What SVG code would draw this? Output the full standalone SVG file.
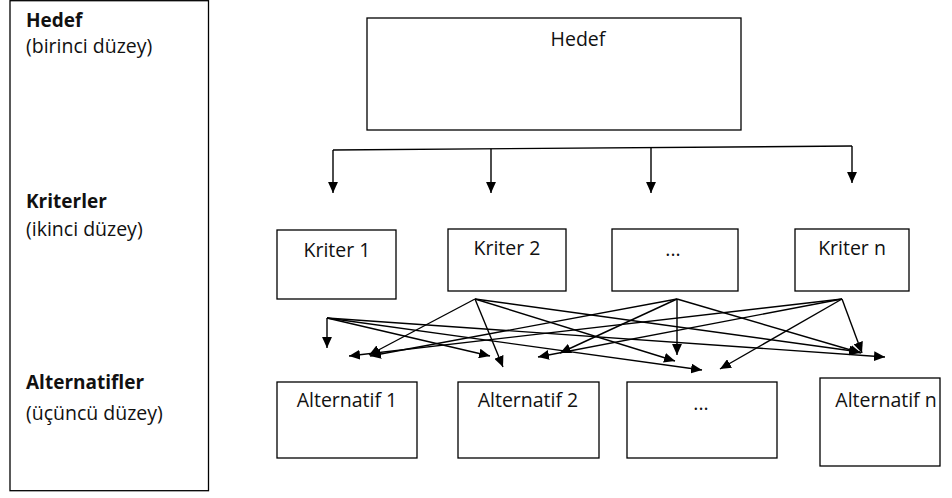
<svg xmlns="http://www.w3.org/2000/svg" width="952" height="498" viewBox="0 0 952 498">
  <defs>
    <marker id="head" viewBox="0 0 10 9" refX="10" refY="4.5" markerWidth="11" markerHeight="10" markerUnits="userSpaceOnUse" orient="auto">
      <path d="M0,0 L10,4.5 L0,9 z" fill="#000"/>
    </marker>
    <style>
      .box { fill: #fff; stroke: #000; stroke-width: 1.3; }
      .lbl { font-family: "Open Sans", "Liberation Sans", sans-serif; font-size: 19.5px; fill: #111; }
      .mid { text-anchor: middle; }
      .bold { font-weight: bold; font-size: 19px; }
      .wire { fill: none; stroke: #000; stroke-width: 1.4; }
      .arr { marker-end: url(#head); }
    </style>
  </defs>

  <rect width="952" height="498" fill="#fff"/>

  <!-- level legend on the left -->
  <g id="levels">
    <rect class="box" x="10" y="0.7" width="198.5" height="490"/>
    <text class="lbl bold" x="26" y="27">Hedef</text>
    <text class="lbl" x="26" y="53">(birinci düzey)</text>
    <text class="lbl bold" x="26" y="208">Kriterler</text>
    <text class="lbl" x="26" y="236">(ikinci düzey)</text>
    <text class="lbl bold" x="26" y="389">Alternatifler</text>
    <text class="lbl" x="26" y="420">(üçüncü düzey)</text>
  </g>

  <!-- goal -->
  <g id="goal">
    <rect class="box" x="367" y="18" width="374" height="112"/>
    <text class="lbl mid" x="578" y="46">Hedef</text>
  </g>

  <!-- criteria -->
  <g id="k1">
    <rect class="box" x="277" y="230" width="119" height="69"/>
    <text class="lbl mid" x="337" y="257">Kriter 1</text>
  </g>
  <g id="k2">
    <rect class="box" x="448" y="229" width="118" height="62"/>
    <text class="lbl mid" x="507" y="255">Kriter 2</text>
  </g>
  <g id="k3">
    <rect class="box" x="612" y="229" width="126" height="62"/>
    <text class="lbl mid" x="673" y="256">...</text>
  </g>
  <g id="kn">
    <rect class="box" x="795" y="229" width="114" height="62"/>
    <text class="lbl mid" x="852" y="255">Kriter n</text>
  </g>

  <!-- alternatives -->
  <g id="a1">
    <rect class="box" x="277" y="382" width="140" height="76"/>
    <text class="lbl mid" x="347" y="407">Alternatif 1</text>
  </g>
  <g id="a2">
    <rect class="box" x="458" y="382" width="141" height="76"/>
    <text class="lbl mid" x="528" y="407">Alternatif 2</text>
  </g>
  <g id="a3">
    <rect class="box" x="627" y="382" width="150" height="76"/>
    <text class="lbl mid" x="701" y="410">...</text>
  </g>
  <g id="an">
    <rect class="box" x="820" y="378" width="120" height="88"/>
    <text class="lbl mid" x="886" y="407">Alternatif n</text>
  </g>

  <!-- connectors -->
  <g id="connectors">
    <!-- goal to criteria -->
    <path class="wire" d="M333,150 L852,146"/>
    <path class="wire arr" d="M333,150 V193"/>
    <path class="wire arr" d="M491,148.8 V193"/>
    <path class="wire arr" d="M651,147.6 V193"/>
    <path class="wire arr" d="M852,146 V183"/>

    <!-- Kriter 1 fan -->
    <path class="wire arr" d="M327,318 V348"/>
    <path class="wire arr" d="M327,318 L490,356"/>
    <path class="wire arr" d="M327,318 L702,370"/>
    <path class="wire arr" d="M327,318 L885,357"/>

    <!-- Kriter 2 fan -->
    <path class="wire arr" d="M475,299 L369,355"/>
    <path class="wire arr" d="M475,299 L503,367"/>
    <path class="wire arr" d="M475,299 L675,361"/>
    <path class="wire arr" d="M475,299 L860,352"/>

    <!-- third criterion fan -->
    <path class="wire arr" d="M677,299 L370,356"/>
    <path class="wire arr" d="M677,299 L560,353"/>
    <path class="wire arr" d="M677,299 V355"/>
    <path class="wire arr" d="M677,299 L861,353"/>

    <!-- Kriter n fan -->
    <path class="wire arr" d="M842,299 L349,356"/>
    <path class="wire arr" d="M842,299 L538,357"/>
    <path class="wire arr" d="M842,299 L720,369"/>
    <path class="wire arr" d="M842,299 L862,353"/>
  </g>
</svg>
